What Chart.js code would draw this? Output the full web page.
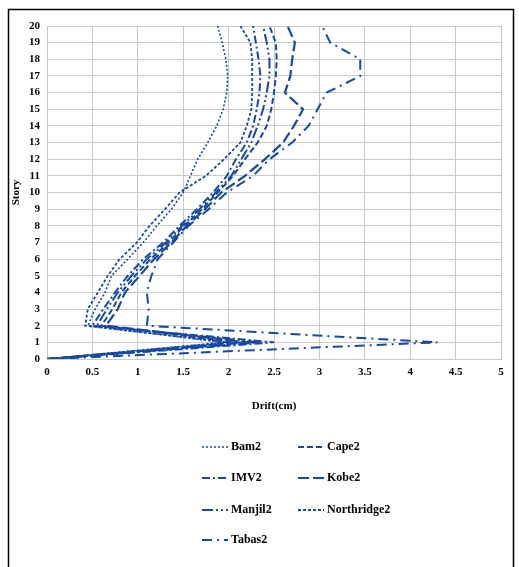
<!DOCTYPE html>
<html>
<head>
<meta charset="utf-8">
<script src="https://cdn.jsdelivr.net/npm/chart.js@4.4.1/dist/chart.umd.min.js"></script>
<style>
  html, body { margin: 0; padding: 0; background: #fff; }
  #wrap { width: 519px; height: 567px; position: relative; }
</style>
</head>
<body>
<div id="wrap"><canvas id="chart" width="519" height="567"></canvas></div>
<script>
/* Story drift profiles, 7 records */
const stories = [0,1,2,3,4,5,6,7,8,9,10,11,12,13,14,15,16,17,18,19,20];
const seriesNames = ['Bam2','Cape2','IMV2','Kobe2','Manjil2','Northridge2','Tabas2'];

const bam2       = [0,1.95,0.45,0.53,0.64,0.71,0.89,1.06,1.21,1.37,1.50,1.58,1.66,1.77,1.87,1.94,1.98,1.99,1.97,1.93,1.88];
const cape2      = [0,2.10,0.60,0.72,0.82,0.97,1.14,1.34,1.51,1.71,1.88,2.05,2.18,2.32,2.42,2.47,2.50,2.52,2.53,2.52,2.45];
const imv2       = [0,2.50,0.50,0.62,0.75,0.89,1.06,1.28,1.46,1.65,1.83,1.98,2.08,2.20,2.27,2.31,2.34,2.35,2.33,2.30,2.27];
const kobe2      = [0,2.20,0.65,0.78,0.86,1.02,1.18,1.37,1.54,1.74,1.92,2.18,2.40,2.60,2.72,2.82,2.62,2.68,2.70,2.73,2.65];
const manjil2    = [0,2.35,0.55,0.66,0.78,0.93,1.10,1.31,1.49,1.68,1.86,2.03,2.14,2.25,2.32,2.38,2.42,2.45,2.45,2.42,2.38];
const northridge2= [0,2.00,0.42,0.45,0.56,0.67,0.80,0.99,1.13,1.30,1.46,1.75,1.95,2.13,2.20,2.25,2.26,2.26,2.26,2.24,2.13];
const tabas2     = [0,4.30,1.10,1.12,1.10,1.15,1.22,1.39,1.56,1.78,1.98,2.27,2.45,2.70,2.88,2.98,3.08,3.45,3.45,3.12,3.03];

const seriesValues = [bam2, cape2, imv2, kobe2, manjil2, northridge2, tabas2];
const seriesDash = [[2,2],[6,3],[8,3,2,3],[11,4],[11,3,2,3,2,3],[3,2],[10,5,2,5]];
const seriesWidth = [1.6,2,2,2.2,2,1.8,2];
const xTicks = [0,0.5,1,1.5,2,2.5,3,3.5,4,4.5,5];
const yTicks = stories;

const LINE = '#1748a3';
const GRID = '#c9c9c9';
const FONT = "'Liberation Serif', 'Times New Roman', serif";

const datasets = seriesNames.map((name, i) => ({
  label: name,
  data: stories.map((s, k) => ({ x: seriesValues[i][k], y: s })),
  borderColor: LINE,
  backgroundColor: LINE,
  borderWidth: seriesWidth[i],
  borderDash: seriesDash[i],
  pointRadius: 0,
  fill: false,
  tension: 0,
}));

/* legend drawn in a fixed 2-column grid, like the source figure */
const gridLegend = {
  id: 'gridLegend',
  afterDraw(chart) {
    const { ctx } = chart;
    const cols = [202, 298], rows = [447, 478, 510, 540];
    ctx.save();
    ctx.font = `bold 12px ${FONT}`;
    ctx.textBaseline = 'middle';
    chart.data.datasets.forEach((ds, i) => {
      const x = cols[i % 2], y = rows[Math.floor(i / 2)];
      ctx.strokeStyle = ds.borderColor;
      ctx.lineWidth = ds.borderWidth;
      ctx.setLineDash(ds.borderDash);
      ctx.beginPath(); ctx.moveTo(x, y); ctx.lineTo(x + 26, y); ctx.stroke();
      ctx.setLineDash([]);
      ctx.fillStyle = '#000';
      ctx.fillText(ds.label, x + 29, y);
    });
    ctx.restore();
  }
};

const frame = {
  id: 'frame',
  afterDraw(chart) {
    const { ctx } = chart;
    ctx.save();
    ctx.strokeStyle = '#000';
    ctx.lineWidth = 1.5;
    ctx.beginPath();
    ctx.moveTo(8.5, 575); ctx.lineTo(8.5, 9.5); ctx.lineTo(513.5, 9.5); ctx.lineTo(513.5, 575);
    ctx.stroke();
    ctx.restore();
  }
};

new Chart(document.getElementById('chart'), {
  type: 'line',
  data: { datasets },
  options: {
    responsive: false,
    animation: false,
    layout: { padding: { left: 8, right: 18, top: 26, bottom: 150 } },
    plugins: { legend: { display: false }, tooltip: { enabled: false } },
    scales: {
      x: {
        type: 'linear', min: 0, max: 5,
        afterBuildTicks: (s) => { s.ticks = xTicks.map(v => ({ value: v })); },
        afterFit: (s) => { s.height = 58; },
        grid: { color: GRID, drawTicks: false, lineWidth: 1 },
        border: { color: GRID },
        ticks: { color: '#000', padding: 7, maxRotation: 0, callback: (v) => String(v), font: { family: FONT, size: 11, weight: 'bold' } },
        title: { display: true, text: 'Drift(cm)', color: '#000', padding: { top: 14 }, font: { family: FONT, size: 11, weight: 'bold' } },
      },
      y: {
        type: 'linear', min: 0, max: 20,
        afterBuildTicks: (s) => { s.ticks = yTicks.map(v => ({ value: v })); },
        afterFit: (s) => { s.width = 39; },
        grid: { color: GRID, drawTicks: false, lineWidth: 1 },
        border: { color: GRID },
        ticks: { color: '#000', padding: 7, callback: (v) => String(v), font: { family: FONT, size: 11, weight: 'bold' } },
        title: { display: true, text: 'Story', color: '#000', padding: 2, font: { family: FONT, size: 11, weight: 'bold' } },
      },
    },
  },
  plugins: [gridLegend, frame],
});
</script>
</body>
</html>
